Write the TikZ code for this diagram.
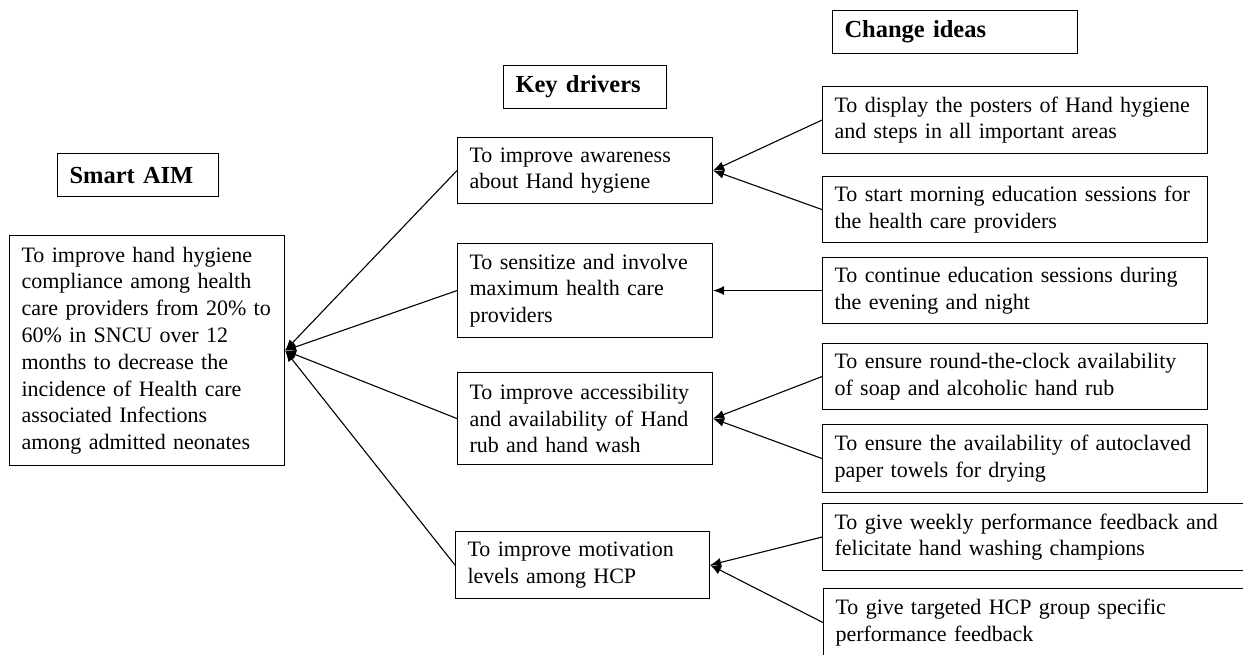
\documentclass[tikz,border=0pt]{standalone}
\usepackage{fontspec}
\setmainfont{Liberation Serif}
\usepackage{tikz}
\usetikzlibrary{arrows.meta, positioning}
\tikzstyle{box}=[draw=black,line width=1.1pt,anchor=north west,align=left,inner xsep=12pt,inner ysep=0pt,font=\fontsize{22}{26.8}\selectfont]
\tikzstyle{head}=[box,font=\fontsize{24.5}{28}\selectfont\bfseries]
\tikzstyle{arrow}=[line width=1.1pt,->]

\begin{document}
\begin{tikzpicture}[x=1pt,y=-1pt,>={Latex[length=11pt,width=9pt]}]
    \clip (0,0) rectangle (1243,654);

    % headings
    \node[head, text width=137, minimum height=43] (aimh) at (57,153) {Smart AIM};
    \node[head, text width=139, minimum height=43] (kdh) at (503,65) {Key drivers};
    \node[head, text width=221, minimum height=43] (cih) at (832,10) {Change ideas};

    % aim
    \node[box, text width=251, minimum height=230] (aim) at (9,235) {To improve hand hygiene\\compliance among health\\care providers from 20\% to\\60\% in SNCU over 12\\months to decrease the\\incidence of Health care\\associated Infections\\among admitted neonates};

    % key drivers
    \node[box, text width=231, minimum height=66] (kd1) at (457,137) {To improve awareness\\about Hand hygiene};
    \node[box, text width=231, minimum height=94] (kd2) at (457,243) {To sensitize and involve\\maximum health care\\providers};
    \node[box, text width=231, minimum height=92] (kd3) at (457,372) {To improve accessibility\\and availability of Hand\\rub and hand wash};
    \node[box, text width=230, minimum height=67] (kd4) at (455,531) {To improve motivation\\levels among HCP};

    % change ideas
    \node[box, text width=361, minimum height=67] (ci1) at (822,86) {To display the posters of Hand hygiene\\and steps in all important areas};
    \node[box, text width=361, minimum height=66] (ci2) at (822,176) {To start morning education sessions for\\the health care providers};
    \node[box, text width=361, minimum height=66] (ci3) at (822,257) {To continue education sessions during\\the evening and night};
    \node[box, text width=361, minimum height=66] (ci4) at (822,343) {To ensure round-the-clock availability\\of soap and alcoholic hand rub};
    \node[box, text width=361, minimum height=68] (ci5) at (822,424) {To ensure the availability of autoclaved\\paper towels for drying};
    \node[box, text width=440, minimum height=67] (ci6) at (822,503) {To give weekly performance feedback and\\felicitate hand washing champions};
    \node[box, text width=440, minimum height=68] (ci7) at (823,588) {To give targeted HCP group specific\\performance feedback};

    % connectors
    \foreach \k in {kd1,kd2,kd3,kd4}
        \draw[arrow] (\k.west) -- (aim.east);
    \draw[arrow] (ci1.west) -- (kd1.east);
    \draw[arrow] (ci2.west) -- (kd1.east);
    \draw[arrow] (ci3.west) -- (kd2.east);
    \draw[arrow] (ci4.west) -- (kd3.east);
    \draw[arrow] (ci5.west) -- (kd3.east);
    \draw[arrow] (ci6.west) -- (kd4.east);
    \draw[arrow] (ci7.west) -- (kd4.east);
\end{tikzpicture}
\end{document}
